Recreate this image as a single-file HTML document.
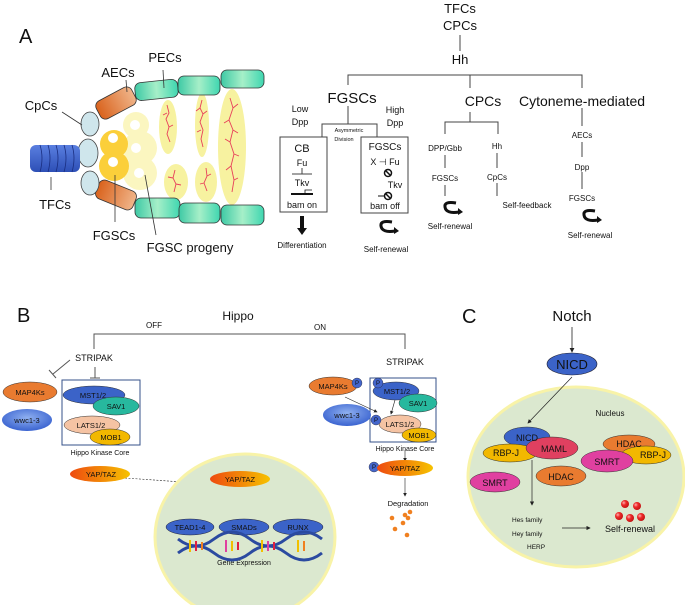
<!DOCTYPE html>
<html><head><meta charset="utf-8"><style>body{margin:0;background:#fff}svg{display:block}text{font-family:"Liberation Sans",sans-serif;fill:#111}</style></head><body>
<svg width="685" height="605" viewBox="0 0 685 605" xmlns="http://www.w3.org/2000/svg">
<defs>
<linearGradient id="teal" x1="0" y1="0" x2="1" y2="0"><stop offset="0" stop-color="#3ec9a5"/><stop offset="0.5" stop-color="#a6efc8"/><stop offset="1" stop-color="#3fd6b0"/></linearGradient>
<linearGradient id="org" x1="0" y1="0" x2="1" y2="0"><stop offset="0" stop-color="#d9621c"/><stop offset="1" stop-color="#f0b58a"/></linearGradient>
<linearGradient id="blu" x1="0" y1="0" x2="0" y2="1"><stop offset="0" stop-color="#5a7fe0"/><stop offset="1" stop-color="#2d4fb6"/></linearGradient>
<linearGradient id="yap" x1="0" y1="0" x2="1" y2="0"><stop offset="0" stop-color="#ee4a10"/><stop offset="1" stop-color="#f6c200"/></linearGradient>
<radialGradient id="wwc" cx="0.5" cy="0.4" r="0.6"><stop offset="0" stop-color="#8fb0f0"/><stop offset="1" stop-color="#3a63d0"/></radialGradient>
<radialGradient id="ball" cx="0.35" cy="0.35" r="0.7"><stop offset="0" stop-color="#ffb0b0"/><stop offset="0.4" stop-color="#ee2a2a"/><stop offset="1" stop-color="#c01010"/></radialGradient>
<marker id="ar" markerWidth="6" markerHeight="6" refX="5" refY="3" orient="auto"><path d="M0,0 L6,3 L0,6z" fill="#222"/></marker>
</defs>
<!-- Panel A -->
<text x="19" y="43" font-size="20">A</text>
<g fill="#f7f2a0">
<ellipse cx="168" cy="127" rx="9" ry="27"/><ellipse cx="176" cy="182" rx="12" ry="18"/>
<ellipse cx="202" cy="125" rx="7" ry="32"/><ellipse cx="206" cy="182" rx="11" ry="20"/>
<ellipse cx="232" cy="147" rx="14" ry="58"/>
</g>
<g stroke="#e8405a" stroke-width="0.9" fill="none">
<path d="M167 105 l2 8 -3 6 3 8 -2 7 3 8 M167 113 l-4 2 M169 127 l4 -2"/>
<path d="M175 170 l-2 8 3 6 -2 8 M173 178 l-5 -1 M176 184 l5 1"/>
<path d="M202 100 l-2 8 3 6 -3 8 3 8 -2 9 2 8 M200 108 l-4 3 M203 114 l4 -3 M201 130 l-4 2"/>
<path d="M206 168 l1 8 -3 7 3 8 M207 176 l4 -2 M204 183 l-4 1"/>
<path d="M230 98 l3 10 -4 12 4 10 -3 12 4 12 -3 12 3 14 -2 12 M233 108 l5 -4 M229 120 l-5 3 M233 130 l5 3 M230 142 l-5 -3 M234 154 l5 2 M231 166 l-5 4 M234 180 l4 -2"/>
</g>
<g fill="#fbf6c0"><circle cx="136" cy="125" r="13"/><circle cx="140" cy="148" r="17"/><circle cx="140" cy="173" r="17"/></g>
<g fill="#fff"><circle cx="135" cy="125" r="5"/><circle cx="136" cy="148" r="5"/><circle cx="139" cy="173" r="5"/></g>
<g fill="#fbcf3a"><circle cx="114" cy="144" r="14"/><circle cx="114" cy="166" r="15"/></g>
<g fill="#fff"><circle cx="113" cy="138" r="5"/><circle cx="113" cy="162" r="5"/></g>
<g fill="url(#teal)" stroke="#333" stroke-width="0.8">
<rect x="135" y="81" width="43" height="18" rx="6" transform="rotate(-6 156 90)"/>
<rect x="178" y="76" width="42" height="19" rx="6"/>
<rect x="221" y="70" width="43" height="18" rx="6"/>
<rect x="135" y="198" width="45" height="20" rx="6"/>
<rect x="179" y="203" width="41" height="20" rx="6"/>
<rect x="221" y="205" width="43" height="20" rx="6"/>
</g>
<g fill="url(#org)" stroke="#333" stroke-width="0.8">
<rect x="96" y="93" width="40" height="20" rx="6" transform="rotate(-28 116 103)"/>
<rect x="96" y="185" width="40" height="20" rx="6" transform="rotate(22 116 195)"/>
</g>
<g fill="#cfe6ec" stroke="#444" stroke-width="0.8">
<ellipse cx="90" cy="124" rx="9" ry="12"/><ellipse cx="88" cy="153" rx="10" ry="14"/><ellipse cx="90" cy="183" rx="9" ry="12"/>
</g>
<rect x="30" y="145" width="50" height="27" rx="6" fill="url(#blu)"/>
<g stroke="#1a2e80" stroke-width="0.8" fill="none"><path d="M40 145 q4 13 0 27 M48 145 q4 13 0 27 M56 145 q4 13 0 27 M64 145 q4 13 0 27 M72 145 q4 13 0 27"/></g>
<g stroke="#333" stroke-width="0.8"><line x1="62" y1="112" x2="82" y2="125"/><line x1="51" y1="177" x2="51" y2="190"/><line x1="115" y1="175" x2="115" y2="222"/><line x1="145" y1="175" x2="156" y2="235"/><line x1="163" y1="70" x2="164" y2="88"/><line x1="126" y1="80" x2="127" y2="92"/></g>
<g font-size="13"><text x="165" y="62" text-anchor="middle">PECs</text><text x="118" y="77" text-anchor="middle">AECs</text><text x="41" y="110" text-anchor="middle">CpCs</text><text x="55" y="209" text-anchor="middle">TFCs</text><text x="114" y="240" text-anchor="middle">FGSCs</text><text x="190" y="252" text-anchor="middle">FGSC progeny</text></g>
<g font-size="13" text-anchor="middle"><text x="460" y="13">TFCs</text><text x="460" y="30">CPCs</text><text x="460" y="64">Hh</text></g>
<g stroke="#444" stroke-width="1" fill="none">
<line x1="460" y1="35" x2="460" y2="51"/>
<path d="M348 85 V75 H582 V88 M470 75 V88"/>
<path d="M348 106 V124 M322 137 V124 H377 V137"/>
<rect x="280" y="137" width="47" height="75"/><rect x="361" y="137" width="47" height="76"/>
<path d="M470 112 V122 M445 134 V122 H498 V134 M445 155 V168 M497 153 V168 M497 183 V196 M445 185 V196"/>
<path d="M582 108 V126 M582 142 V157 M582 172 V189"/>
<line x1="292" y1="174" x2="312" y2="174"/><line x1="302" y1="168" x2="302" y2="174"/>
</g>
<g text-anchor="middle">
<text x="352" y="103" font-size="15">FGSCs</text><text x="483" y="106" font-size="14">CPCs</text><text x="582" y="106" font-size="14">Cytoneme-mediated</text>
<text x="300" y="112" font-size="9">Low</text><text x="300" y="125" font-size="9">Dpp</text><text x="395" y="113" font-size="9">High</text><text x="395" y="126" font-size="9">Dpp</text>
<text x="349" y="132" font-size="5.5">Asymmetric</text><text x="344" y="141" font-size="5.5">Division</text>
<text x="302" y="152" font-size="11">CB</text><text x="302" y="166" font-size="9">Fu</text><text x="302" y="186" font-size="9">Tkv</text><text x="302" y="208" font-size="9">bam on</text>
<text x="385" y="150" font-size="10">FGSCs</text><text x="385" y="165" font-size="9">X ⊣ Fu</text><text x="395" y="188" font-size="9">Tkv</text><text x="385" y="209" font-size="9">bam off</text>
<text x="302" y="248" font-size="8">Differentiation</text><text x="386" y="252" font-size="8">Self-renewal</text>
<text x="445" y="151" font-size="8">DPP/Gbb</text><text x="497" y="149" font-size="8">Hh</text><text x="445" y="181" font-size="8">FGSCs</text><text x="497" y="180" font-size="8">CpCs</text><text x="527" y="208" font-size="8">Self-feedback</text><text x="450" y="229" font-size="8">Self-renewal</text>
<text x="582" y="138" font-size="8">AECs</text><text x="582" y="170" font-size="8">Dpp</text><text x="582" y="201" font-size="8">FGSCs</text><text x="590" y="238" font-size="8">Self-renewal</text>
</g>
<g stroke="#111" fill="none"><path d="M291 194 H313" stroke-width="2"/><path d="M305 194 V190 H312" stroke-width="0.8"/>
<circle cx="388" cy="173" r="3.5" stroke-width="1.5"/><line x1="385" y1="170" x2="391" y2="176" stroke-width="1.5"/>
<circle cx="388" cy="196" r="3.5" stroke-width="1.5"/><line x1="385" y1="193" x2="391" y2="199" stroke-width="1.5"/><line x1="378" y1="196" x2="385" y2="196"/></g>
<path d="M300 216 h4 v12 h3 l-5 7 -5 -7 h3z" fill="#111"/>
<g fill="none" stroke="#111" stroke-width="3"><path d="M392 222 q-12 -2 -11 4 q1 7 14 5"/><path d="M456 203 q-12 -2 -11 4 q1 7 14 5"/><path d="M595 211 q-12 -2 -11 4 q1 7 14 5"/></g>
<g fill="#111"><path d="M394 227 l5 4 -5 3z"/><path d="M458 208 l5 4 -5 3z"/><path d="M597 216 l5 4 -5 3z"/></g>
<!-- Panel B -->
<text x="17" y="322" font-size="20">B</text>
<g text-anchor="middle"><text x="238" y="320" font-size="12">Hippo</text><text x="154" y="328" font-size="8">OFF</text><text x="320" y="330" font-size="8">ON</text>
<text x="94" y="361" font-size="9">STRIPAK</text><text x="405" y="365" font-size="9">STRIPAK</text></g>
<g stroke="#555" fill="none"><path d="M94 349 V334 H405 V349"/><path d="M70 360 L53 374 M49 370 l7 8"/><path d="M95 367 V378 M90 378 H100"/></g>
<rect x="62" y="380" width="78" height="65" fill="none" stroke="#34508a"/>
<rect x="370" y="378" width="66" height="64" fill="none" stroke="#34508a"/>
<g stroke="#333" stroke-width="0.5" font-size="8">
<ellipse cx="30" cy="392" rx="27" ry="10" fill="#e97b30"/><ellipse cx="27" cy="420" rx="25" ry="11" fill="url(#wwc)" stroke="none"/>
<ellipse cx="94" cy="395" rx="31" ry="9" fill="#3b63c8"/><ellipse cx="116" cy="406" rx="23" ry="9" fill="#27b89e"/>
<ellipse cx="92" cy="425" rx="28" ry="9" fill="#f5c3a3"/><ellipse cx="110" cy="437" rx="20" ry="8" fill="#f2b800"/>
<ellipse cx="333" cy="386" rx="24" ry="9" fill="#e97b30"/><ellipse cx="347" cy="415" rx="24" ry="11" fill="url(#wwc)" stroke="none"/>
<ellipse cx="396" cy="391" rx="23" ry="9" fill="#3b63c8"/><ellipse cx="418" cy="403" rx="19" ry="9" fill="#27b89e"/>
<ellipse cx="400" cy="424" rx="21" ry="9" fill="#f5c3a3"/><ellipse cx="419" cy="435" rx="17" ry="7" fill="#f2b800"/>
</g>
<g font-size="7.5" text-anchor="middle" fill="#111">
<text x="30" y="395">MAP4Ks</text><text x="27" y="423">wwc1-3</text><text x="93" y="398">MST1/2</text><text x="116" y="409">SAV1</text><text x="91" y="428">LATS1/2</text><text x="111" y="440">MOB1</text>
<text x="100" y="455" font-size="7">Hippo Kinase Core</text>
<text x="333" y="389">MAP4Ks</text><text x="347" y="418">wwc1-3</text><text x="397" y="394">MST1/2</text><text x="418" y="406">SAV1</text><text x="400" y="427">LATS1/2</text><text x="419" y="438">MOB1</text>
<text x="405" y="451" font-size="7">Hippo Kinase Core</text>
</g>
<g fill="#4466cc" stroke="#223" stroke-width="0.4"><circle cx="357" cy="383" r="5"/><circle cx="378" cy="383" r="5"/><circle cx="376" cy="420" r="5"/><circle cx="374" cy="467" r="5"/></g>
<g font-size="6" text-anchor="middle"><text x="357" y="385" fill="#fff">P</text><text x="378" y="385" fill="#fff">P</text><text x="376" y="422" fill="#fff">P</text><text x="374" y="469" fill="#fff">P</text></g>
<g stroke="#222" stroke-width="0.6" fill="none" marker-end="url(#ar)"><line x1="345" y1="397" x2="377" y2="412"/><line x1="395" y1="400" x2="391" y2="414"/><line x1="405" y1="450" x2="405" y2="461"/><line x1="405" y1="478" x2="405" y2="496"/><line x1="240" y1="488" x2="240" y2="513"/></g>
<line x1="125" y1="478" x2="196" y2="483" stroke="#222" stroke-width="0.6" stroke-dasharray="2,1.5" marker-end="url(#ar)"/>
<ellipse cx="245" cy="537" rx="90" ry="83" fill="#dbe8cf" stroke="#f8f3a8" stroke-width="3"/>
<g><ellipse cx="100" cy="474" rx="30" ry="8" fill="url(#yap)"/><ellipse cx="240" cy="479" rx="30" ry="8" fill="url(#yap)"/><ellipse cx="405" cy="468" rx="28" ry="8" fill="url(#yap)"/></g>
<g font-size="7.5" text-anchor="middle"><text x="101" y="477">YAP/TAZ</text><text x="240" y="482">YAP/TAZ</text><text x="405" y="471">YAP/TAZ</text><text x="408" y="506">Degradation</text></g>
<g fill="#f08020"><circle cx="392" cy="518" r="2.3"/><circle cx="405" cy="515" r="2.3"/><circle cx="410" cy="512" r="2.3"/><circle cx="408" cy="518" r="2.3"/><circle cx="403" cy="523" r="2.3"/><circle cx="395" cy="529" r="2.3"/><circle cx="407" cy="535" r="2.3"/></g>
<g fill="#3b63c8" stroke="#223" stroke-width="0.5"><ellipse cx="190" cy="527" rx="24" ry="8"/><ellipse cx="244" cy="527" rx="25" ry="8"/><ellipse cx="298" cy="527" rx="25" ry="8"/></g>
<g font-size="7.5" text-anchor="middle"><text x="190" y="530">TEAD1-4</text><text x="244" y="530">SMADs</text><text x="298" y="530">RUNX</text><text x="244" y="565" font-size="7">Gene Expression</text></g>
<g stroke-width="3" fill="none"><path d="M178 539 q18 14 36 0 t36 0 t36 0 t36 0" stroke="#2b4aa0"/><path d="M178 553 q18 -14 36 0 t36 0 t36 0 t36 0" stroke="#2b4aa0"/></g>
<g stroke-width="2"><line x1="190" y1="540" x2="190" y2="552" stroke="#f2c000"/><line x1="196" y1="541" x2="196" y2="551" stroke="#e02040"/><line x1="202" y1="542" x2="202" y2="550" stroke="#f08020"/><line x1="226" y1="540" x2="226" y2="552" stroke="#e040a0"/><line x1="232" y1="541" x2="232" y2="551" stroke="#f2c000"/><line x1="238" y1="542" x2="238" y2="550" stroke="#e02040"/><line x1="262" y1="540" x2="262" y2="552" stroke="#f2c000"/><line x1="268" y1="541" x2="268" y2="551" stroke="#e040a0"/><line x1="274" y1="542" x2="274" y2="550" stroke="#e02040"/><line x1="298" y1="540" x2="298" y2="552" stroke="#f2c000"/><line x1="304" y1="541" x2="304" y2="551" stroke="#f08020"/></g>
<!-- Panel C -->
<text x="462" y="323" font-size="20">C</text>
<text x="572" y="321" font-size="15" text-anchor="middle">Notch</text>
<line x1="572" y1="327" x2="572" y2="352" stroke="#222" stroke-width="0.8" marker-end="url(#ar)"/>
<ellipse cx="576" cy="477" rx="108" ry="90" fill="#dbe8cf" stroke="#f8f3a8" stroke-width="3"/>
<ellipse cx="572" cy="364" rx="25" ry="11" fill="#3b63c8" stroke="#223" stroke-width="0.6"/>
<text x="572" y="369" font-size="13" text-anchor="middle">NICD</text>
<line x1="572" y1="377" x2="528" y2="423" stroke="#222" stroke-width="0.7" marker-end="url(#ar)"/>
<text x="610" y="416" font-size="8" text-anchor="middle">Nucleus</text>
<g stroke="#333" stroke-width="0.5">
<ellipse cx="527" cy="437" rx="23" ry="10" fill="#3b63c8"/><ellipse cx="510" cy="453" rx="27" ry="9" fill="#f2b800"/><ellipse cx="552" cy="448" rx="26" ry="11" fill="#e04060"/>
<ellipse cx="561" cy="476" rx="25" ry="10" fill="#e97b30"/><ellipse cx="495" cy="482" rx="25" ry="10" fill="#e040a0"/>
<ellipse cx="629" cy="444" rx="26" ry="9" fill="#e97b30"/><ellipse cx="646" cy="455" rx="25" ry="9" fill="#f2b800"/><ellipse cx="607" cy="461" rx="26" ry="11" fill="#e040a0"/>
</g>
<g font-size="9" text-anchor="middle"><text x="527" y="441">NICD</text><text x="506" y="456">RBP-J</text><text x="554" y="452">MAML</text><text x="561" y="480">HDAC</text><text x="495" y="486">SMRT</text><text x="629" y="447">HDAC</text><text x="653" y="458">RBP-J</text><text x="607" y="465">SMRT</text></g>
<line x1="532" y1="460" x2="532" y2="505" stroke="#222" stroke-width="0.7" marker-end="url(#ar)"/>
<g font-size="6.5"><text x="512" y="522">Hes family</text><text x="512" y="536">Hey family</text><text x="527" y="549">HERP</text></g>
<line x1="562" y1="528" x2="590" y2="528" stroke="#222" stroke-width="0.7" marker-end="url(#ar)"/>
<text x="630" y="532" font-size="9" text-anchor="middle">Self-renewal</text>
<g fill="url(#ball)"><circle cx="625" cy="504" r="4"/><circle cx="637" cy="506" r="4"/><circle cx="619" cy="516" r="4"/><circle cx="630" cy="518" r="4"/><circle cx="641" cy="517" r="4"/></g>
</svg>
</body></html>
